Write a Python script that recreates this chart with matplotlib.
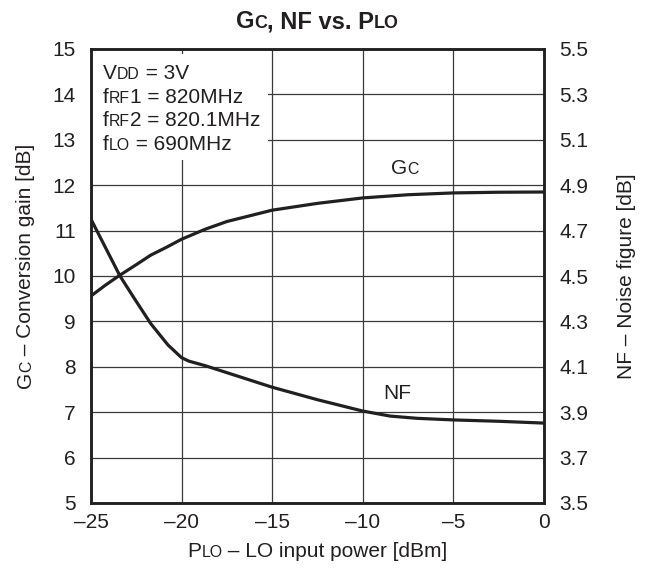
import matplotlib
matplotlib.use("Agg")
import matplotlib.pyplot as plt
from matplotlib.font_manager import FontProperties
from matplotlib.transforms import offset_copy

# data
x_ticks = [-25, -20, -15, -10, -5, 0]
x_tick_labels = ["–25", "–20", "–15", "–10", "–5", "0"]
gc_ticks = [5, 6, 7, 8, 9, 10, 11, 12, 13, 14, 15]
nf_ticks = [3.5, 3.7, 3.9, 4.1, 4.3, 4.5, 4.7, 4.9, 5.1, 5.3, 5.5]
nf_tick_labels = ["3.5", "3.7", "3.9", "4.1", "4.3", "4.5", "4.7", "4.9", "5.1", "5.3", "5.5"]

plo_gc = [-25, -24.2, -23.4, -22.5, -21.7, -20.8, -20, -18.7, -17.5, -15, -12.5, -10, -7.5, -5, -2.5, 0]
gc = [9.56, 9.8, 10.02, 10.25, 10.46, 10.64, 10.81, 11.03, 11.2, 11.45, 11.6, 11.72, 11.79, 11.83, 11.845, 11.85]

plo_nf = [-25, -24.2, -23.4, -22.6, -21.7, -20.75, -20, -19.6, -18.7, -15, -12.5, -10, -8.5, -7, -5, -2.5, 0]
nf = [4.75, 4.625, 4.50, 4.40, 4.29, 4.196, 4.14, 4.125, 4.105, 4.01, 3.955, 3.905, 3.883, 3.873, 3.866, 3.86, 3.852]

FONT = "Liberation Sans"
FS = 15
SMALL_RATIO = 0.76
INK = "#231f20"

fig = plt.figure(figsize=(6.52, 5.72), dpi=100)
ax = fig.add_axes([91 / 652, 1 - 503 / 572, 453 / 652, 454 / 572])
ax2 = ax.twinx()
renderer = fig.canvas.get_renderer()


def advance(s, size, weight="normal"):
    fp = FontProperties(family=FONT, size=size, weight=weight)
    w1 = renderer.get_text_width_height_descent("|" + s + "|", fp, ismath=False)[0]
    w0 = renderer.get_text_width_height_descent("||", fp, ismath=False)[0]
    return w1 - w0


def rich(x, y, parts, rotation=0, center=False, weight="normal", size=FS):
    # parts: list of (string, small?) drawn one after another on a common baseline
    # x, y are pixel positions measured from the top-left of the picture
    sizes = [size * SMALL_RATIO if small else size for _, small in parts]
    widths = [advance(s, sz, weight) for (s, _), sz in zip(parts, sizes)]
    pos = -sum(widths) / 2 if center else 0
    dx, dy = (0, 1) if rotation == 90 else (1, 0)
    for (s, _), sz, w in zip(parts, sizes, widths):
        tr = offset_copy(fig.transFigure, fig=fig, x=pos * dx, y=pos * dy, units="dots")
        fig.text(x / 652, 1 - y / 572, s, transform=tr, fontsize=sz, family=FONT,
                 weight=weight, color=INK, rotation=rotation, rotation_mode="anchor",
                 ha="left", va="baseline", zorder=5)
        pos += w


# grid, axes
ax.set_xlim(-25, 0)
ax.set_ylim(5, 15)
ax2.set_ylim(3.5, 5.5)
ax.set_xticks(x_ticks)
ax.set_xticklabels(x_tick_labels)
ax.set_yticks(gc_ticks)
ax2.set_yticks(nf_ticks)
ax2.set_yticklabels(nf_tick_labels)
ax.grid(True, color="#3a3a3a", linewidth=0.9)
for a in (ax, ax2):
    a.tick_params(length=0, labelsize=FS, labelcolor=INK)
    for lab in a.get_xticklabels() + a.get_yticklabels():
        lab.set_family(FONT)
    for sp in a.spines.values():
        sp.set_linewidth(1.8)
        sp.set_color(INK)
ax.tick_params(axis="x", pad=7)
ax.tick_params(axis="y", pad=11)
ax2.tick_params(axis="y", pad=11)

ax.plot(plo_gc, gc, color=INK, linewidth=2.3, zorder=3)
ax2.plot(plo_nf, nf, color=INK, linewidth=2.3, zorder=3)

# white box behind the conditions
box = plt.Rectangle((0, 0.755), 0.39, 0.233, transform=ax.transAxes,
                    facecolor="white", edgecolor="none", zorder=2.5)
ax.add_patch(box)

lines = [
    [("V", False), ("DD", True), (" = 3V", False)],
    [("f", False), ("RF", True), ("1 = 820MHz", False)],
    [("f", False), ("RF", True), ("2 = 820.1MHz", False)],
    [("f", False), ("LO", True), (" = 690MHz", False)],
]
for i, parts in enumerate(lines):
    rich(103, 79 + i * 23.7, parts)

rich(405, 174, [("G", False), ("C", True)], center=True)
rich(397.5, 399, [("NF", False)], center=True)

# title and axis labels
rich(0.5 * (91 + 544), 28,
     [("G", False), ("C", True), (", NF vs. P", False), ("LO", True)],
     center=True, weight="bold", size=17)
rich(0.5 * (91 + 544), 557,
     [("P", False), ("LO", True), (" – LO input power [dBm]", False)], center=True)
rich(31, 266,
     [("G", False), ("C", True), (" – Conversion gain [dB]", False)],
     rotation=90, center=True)
rich(632, 276, [("NF – Noise figure [dB]", False)], rotation=90, center=True)

fig.savefig("out.png", dpi=100, facecolor="white")
